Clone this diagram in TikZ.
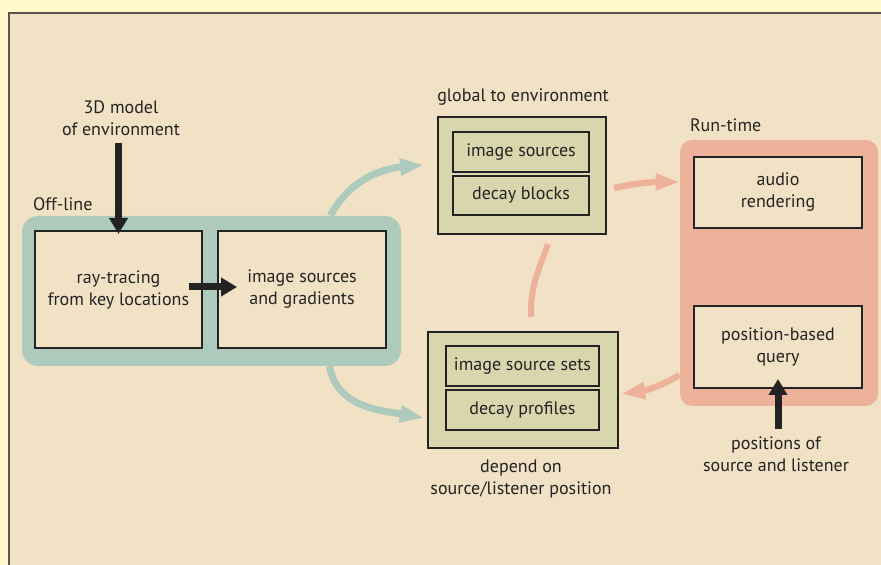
\documentclass[tikz,border=0pt]{standalone}
\usepackage{fontspec}
\setmainfont{PT Sans}
\usetikzlibrary{arrows.meta, positioning, calc}

\definecolor{paper}{HTML}{FFF9CC}
\definecolor{panel}{HTML}{F2E2C5}
\definecolor{frame}{HTML}{5A554E}
\definecolor{ink}{HTML}{232323}
\definecolor{offcol}{HTML}{AECABD}
\definecolor{runcol}{HTML}{EEB29A}
\definecolor{olive}{HTML}{D9D6AE}

\begin{document}
\begin{tikzpicture}[x=0.5pt, y=0.5pt,
    every node/.style={font=\fontsize{9}{11}\selectfont, text=ink},
    stage/.style={draw=ink, line width=1pt, fill=panel, align=center, inner sep=0pt, minimum width=84pt},
    group/.style={draw=ink, line width=1pt, fill=olive, inner sep=0pt},
    item/.style={draw=ink, line width=1pt, fill=olive, inner sep=0pt, minimum height=20pt},
    lane/.style={rounded corners=8pt, inner sep=0pt},
    caption/.style={align=center},
    feed/.style={draw=ink, line width=3.5pt, -{Triangle[length=8pt, width=9pt]}},
    flow/.style={line width=3.5pt, -{Triangle[length=12pt, width=8pt]}}
]
\useasboundingbox (0,0) rectangle (881,565);

% Page and panel
\fill[paper] (0,0) rectangle (881,565);
\fill[panel] (9,0) rectangle (881,552);
\draw[frame, line width=0.8pt] (9,0) -- (9,552) -- (881,552);

% Off-line stage
\node[lane, fill=offcol, minimum width=189.5pt, minimum height=75pt] (offline) at (211.5,274) {};
\node[anchor=west] (offtag) at (26,361) {Off-line};
\node[stage, minimum width=83.5pt, minimum height=58.5pt] (ray) at (118.5,275.5) {ray-tracing\\from key locations};
\node[stage, minimum height=58.5pt] (img) at (302,275.5) {image sources\\and gradients};

% Input model
\node[caption] (model) at (121,447) {3D model\\of environment};
\draw[feed] (model.south -| ray.north) -- ([yshift=-2pt]ray.north);
\draw[feed] ([xshift=-7pt,yshift=1.25pt]ray.east) -- ([xshift=10pt,yshift=1.25pt]img.west);

% Data global to the environment
\node[caption] (globaltag) at (523,468) {global to environment};
\node[group, minimum width=84pt, minimum height=58.5pt] (global) at (522,389.5) {};
\node[item, minimum width=68pt] (imgsrc) at (521,413) {image sources};
\node[item, minimum width=68pt, minimum height=19.5pt] (decayblk) at (521,369.5) {decay blocks};

% Data depending on the position
\node[group, minimum width=95pt, minimum height=58pt] (local) at (523,175) {};
\node[item, minimum width=76.5pt] (imgsets) at (522.5,199) {image source sets};
\node[item, minimum width=76.5pt] (decayprof) at (522.5,155) {decay profiles};
\node[caption] (localtag) at (521,86) {depend on\\source/listener position};

% Run-time stage
\node[lane, rounded corners=6pt, fill=runcol, minimum width=99pt, minimum height=133pt] (runtime) at (779,292) {};
\node[anchor=west] (runtag) at (683,440) {Run-time};
\node[stage, minimum height=35.5pt] (audio) at (778,372.5) {audio\\rendering};
\node[stage, minimum height=41pt] (query) at (778,218) {position-based\\query};
\node[caption] (listener) at (776,111) {positions of\\source and listener};
\draw[feed] (listener.north -| query.south) -- ([yshift=5pt]query.south);

% Off-line results flowing out
\draw[flow, offcol] ([xshift=59.5pt]offline.north) to[out=62, in=185] ([xshift=-6.5pt,yshift=5.25pt]global.west);
\draw[flow, offcol] ([xshift=59pt]offline.south) to[out=-80, in=170] ([xshift=-1.5pt,yshift=-14pt]local.west);

% Run-time exchanges
\draw[flow, runcol, line width=3.2pt] ([xshift=3.5pt,yshift=-6.25pt]global.east) to[out=12, in=180] ([yshift=45.5pt]runtime.west);
\draw[flow, runcol, line width=3.2pt] ([yshift=-51pt]runtime.west) to[out=210, in=8] ([xshift=1pt,yshift=-2pt]local.east);
\draw[runcol, line width=3pt] ([xshift=13pt,yshift=-4.5pt]global.south) to[out=-110, in=92] ([xshift=4pt,yshift=7pt]local.north);

\end{tikzpicture}
\end{document}
